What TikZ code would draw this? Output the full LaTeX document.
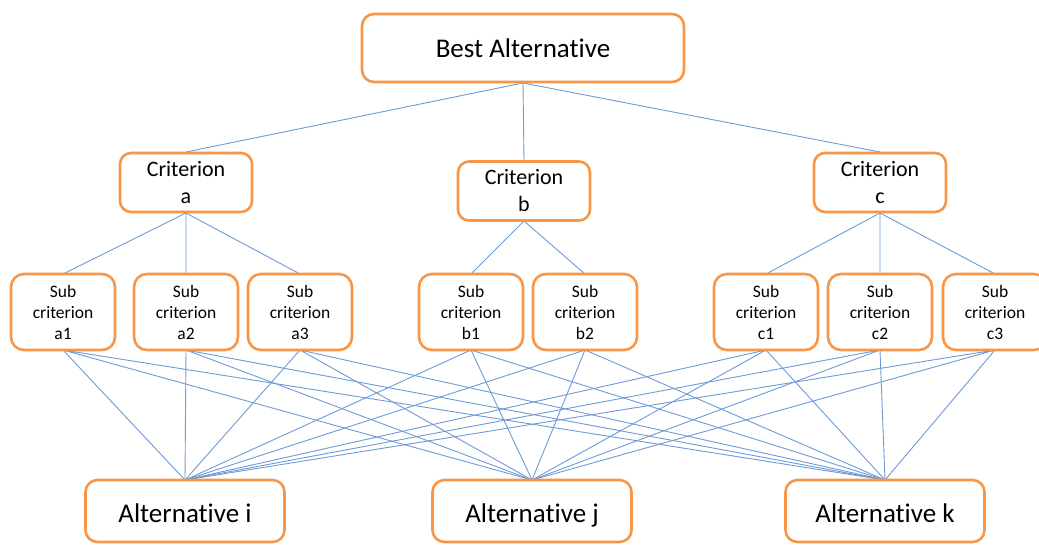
\documentclass[tikz,border=0pt]{standalone}
\usepackage{fontspec}
\setmainfont[Ligatures=NoCommon]{Carlito}
\definecolor{boxorange}{RGB}{247,150,70}
\definecolor{linkblue}{RGB}{110,155,215}

\begin{document}
\begin{tikzpicture}[x=1pt, y=-1pt,
    goal/.style={draw=boxorange, line width=2.6pt, rounded corners=12pt, fill=white,
        minimum width=322pt, minimum height=68pt, text height=20pt, text depth=0pt,
        font=\fontsize{27}{32}\selectfont},
    crit/.style={draw=boxorange, line width=2.6pt, rounded corners=11pt, fill=white, align=center,
        minimum width=132pt, minimum height=59pt, inner sep=1pt, font=\fontsize{22}{27}\selectfont},
    subcrit/.style={draw=boxorange, line width=2.6pt, rounded corners=13pt, fill=white, align=center,
        minimum width=104pt, minimum height=76pt, inner sep=1pt, font=\fontsize{17.5}{21}\selectfont},
    alt/.style={draw=boxorange, line width=2.6pt, rounded corners=12pt, fill=white,
        minimum width=199pt, minimum height=62pt, text height=23pt, text depth=0pt,
        font=\fontsize{27}{32}\selectfont},
    link/.style={draw=linkblue, line width=0.9pt}]
    \clip (0,0) rectangle (1039,548);
    \fill[white] (0,0) rectangle (1039,548);

    % lines behind the boxes
    \coordinate (best-s) at (523,83);
    \coordinate (crita-n) at (186,152);
    \coordinate (critb-n) at (524,161);
    \coordinate (critc-n) at (880,152);
    \coordinate (crita-s) at (186,213);
    \coordinate (critb-s) at (524,221);
    \coordinate (critc-s) at (880,213);
    \foreach \n/\x in {a1/63, a2/186, a3/300, b1/471, b2/585, c1/766, c2/880, c3/995} {
        \coordinate (\n-n) at (\x,274);
        \coordinate (\n-s) at (\x,350);
    }
    \coordinate (alti-n) at (185,480);
    \coordinate (altj-n) at (532,480);
    \coordinate (altk-n) at (885,480);

    \draw[link] (best-s) -- (crita-n) (best-s) -- (critb-n) (best-s) -- (critc-n);
    \draw[link] (crita-s) -- (a1-n) (crita-s) -- (a2-n) (crita-s) -- (a3-n);
    \draw[link] (critb-s) -- (b1-n) (critb-s) -- (b2-n);
    \draw[link] (critc-s) -- (c1-n) (critc-s) -- (c2-n) (critc-s) -- (c3-n);
    \draw[link] (a1-s) -- (alti-n) (a1-s) -- (altj-n) (a1-s) -- (altk-n);
    \draw[link] (a2-s) -- (alti-n) (a2-s) -- (altj-n) (a2-s) -- (altk-n);
    \draw[link] (a3-s) -- (alti-n) (a3-s) -- (altj-n) (a3-s) -- (altk-n);
    \draw[link] (b1-s) -- (alti-n) (b1-s) -- (altj-n) (b1-s) -- (altk-n);
    \draw[link] (b2-s) -- (alti-n) (b2-s) -- (altj-n) (b2-s) -- (altk-n);
    \draw[link] (c1-s) -- (alti-n) (c1-s) -- (altj-n) (c1-s) -- (altk-n);
    \draw[link] (c2-s) -- (alti-n) (c2-s) -- (altj-n) (c2-s) -- (altk-n);
    \draw[link] (c3-s) -- (alti-n) (c3-s) -- (altj-n) (c3-s) -- (altk-n);

    % boxes
    \node[goal] (best) at (523,48) {Best Alternative};
    \node[crit] (crita) at (186,182.5) {Criterion\\a};
    \node[crit] (critb) at (524,191) {Criterion\\b};
    \node[crit] (critc) at (880,182.5) {Criterion\\c};
    \node[subcrit] (a1) at (63,312) {Sub\\criterion\\a1};
    \node[subcrit] (a2) at (186,312) {Sub\\criterion\\a2};
    \node[subcrit] (a3) at (300,312) {Sub\\criterion\\a3};
    \node[subcrit] (b1) at (471,312) {Sub\\criterion\\b1};
    \node[subcrit] (b2) at (585,312) {Sub\\criterion\\b2};
    \node[subcrit] (c1) at (766,312) {Sub\\criterion\\c1};
    \node[subcrit] (c2) at (880,312) {Sub\\criterion\\c2};
    \node[subcrit] (c3) at (995,312) {Sub\\criterion\\c3};
    \node[alt] (alti) at (185,511) {Alternative i};
    \node[alt] (altj) at (532,511) {Alternative j};
    \node[alt] (altk) at (885,511) {Alternative k};
\end{tikzpicture}
\end{document}
